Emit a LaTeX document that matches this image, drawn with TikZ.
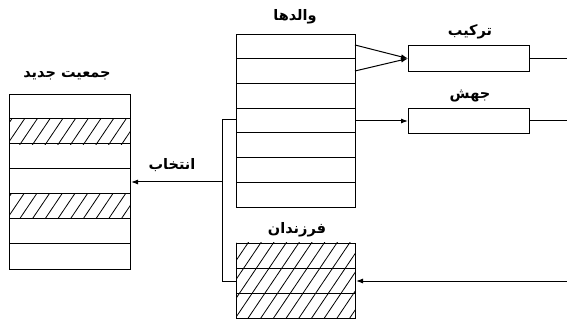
\documentclass[tikz,border=0pt]{standalone}
\usepackage{fontspec}
\newfontfamily\arabicfont[Script=Arabic]{DejaVu Sans}
\TeXXeTstate=1
\usetikzlibrary{arrows.meta}
\newcommand\hatchbox[4]{%
  \begin{scope}
    \clip (#1,#2) rectangle (#3,#4);
    \foreach \s in {-60,-47.3,...,#3} {
      \draw[hatchline] (\s,#4+5) -- ++({(#4-#2+10)*0.6745},{-(#4-#2+10)});
    }
  \end{scope}}
\begin{document}
\begin{tikzpicture}[x=1pt,y=-1pt, line width=1pt,
  box/.style={draw, rectangle, inner sep=0pt, anchor=north west, minimum width=#1},
  box/.default=119pt,
  lbl/.style={font=\arabicfont\bfseries\fontsize{14.5}{16}\selectfont, inner sep=0pt},
  hatchline/.style={line width=0.8pt},
  arr/.style={-{Latex[length=7pt,width=5pt]}}]
\useasboundingbox (0,0) rectangle (567,320);
% hatched rows
\hatchbox{9}{120}{130}{145}
\hatchbox{9}{194}{130}{219}
\hatchbox{236}{243}{355}{318}
% boxes
\node[box=121pt, minimum height=175pt] (N) at (9,94) {};
\node[box, minimum height=173pt] (P) at (236,34) {};
\node[box, minimum height=75pt] (O) at (236,243) {};
\node[box=121pt, minimum height=26pt] (C) at (408,45) {};
\node[box=121pt, minimum height=25pt] (M) at (408,108) {};
% row separators
\foreach \i in {1,...,6} {
  \draw (N.north west) ++(0,{25*\i}) -- ++(121,0);
  \draw (P.north west) ++(0,{24.72*\i}) -- ++(119,0);
}
\foreach \i in {1,2} {
  \draw (O.north west) ++(0,{25*\i}) -- ++(119,0);
}
% labels
\node[lbl] (tN) at (67,76) {\beginR جمعیت جدید\endR};
\node[lbl] (tS) at (172,165) {\beginR انتخاب\endR};
\node[lbl] (tP) at (295,17) {\beginR والدها\endR};
\node[lbl] (tC) at (470,32) {\beginR ترکیب\endR};
\node[lbl] (tM) at (470,96) {\beginR جهش\endR};
\node[lbl] (tO) at (297,230) {\beginR فرزندان\endR};
% connector points
\coordinate (j1) at (222,120);
\coordinate (j2) at (222,182);
\coordinate (j3) at (222,281);
\coordinate (p1) at (355,45);
\coordinate (p2) at (355,71);
\coordinate (eR) at (567,281);
\coordinate (eX) at (567,0);
% connectors
\draw (P.west |- j1) -- (j1) -- (j3) -- (O.west |- j3);
\draw[arr] (j2) -- (j2 -| N.east);
\draw[arr] (p1) -- (C.west);
\draw[arr] (p2) -- (C.west);
\draw[arr] (P.east |- M.west) -- (M.west);
\draw (C.east) -- (C.east -| eX);
\draw (M.east) -- (M.east -| eX);
\draw[arr] (eR) -- (eR -| O.east);
\end{tikzpicture}
\end{document}
